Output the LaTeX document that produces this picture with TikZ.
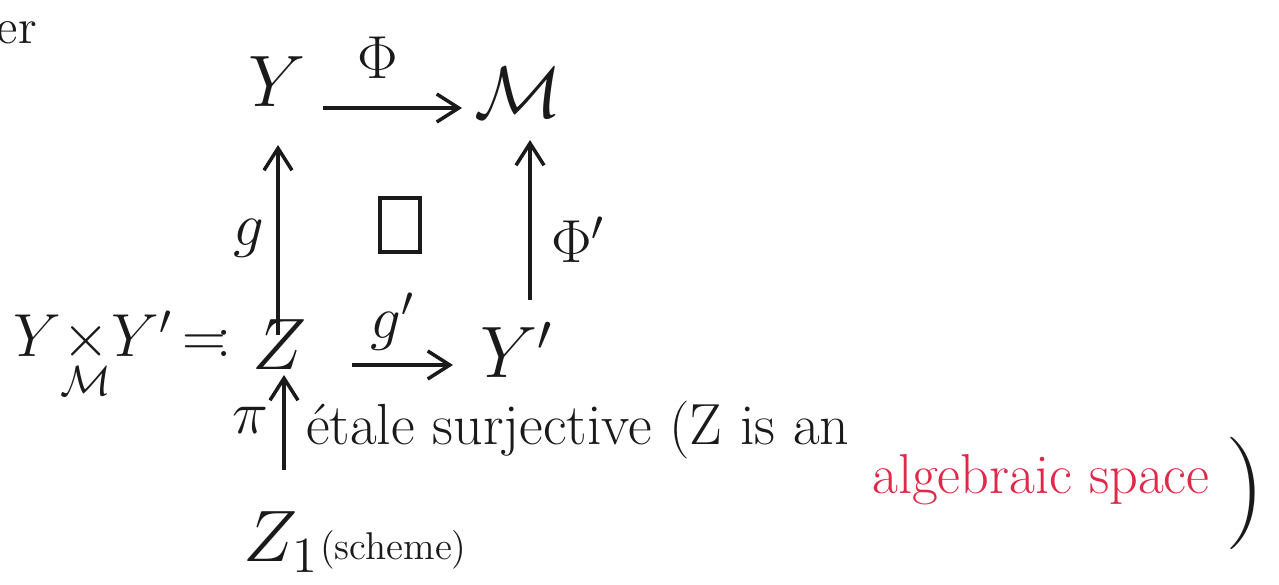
\documentclass[tikz,border=0pt]{standalone}
\usetikzlibrary{arrows.meta,calc}
\definecolor{ink}{HTML}{1A1A1A}
\definecolor{redink}{HTML}{E02848}
\begin{document}
\begin{tikzpicture}[x=0.01cm,y=-0.01cm,
  obj/.style={inner sep=1pt,font=\fontsize{20}{24}\selectfont,text=ink},
  lbl/.style={inner sep=1pt,font=\fontsize{18}{21}\selectfont,text=ink},
  txt/.style={inner sep=1pt,font=\fontsize{16.5}{19}\selectfont,text=ink},
  arr/.style={draw=ink,line width=1pt,-{Straight Barb[length=2.2mm,width=2.8mm]}}]
\useasboundingbox (0,0) rectangle (1279,585);
% objects
\node[obj] (Y)  at (277,82)  {$Y$};
\node[obj] (M)  at (518,93)  {$\mathcal{M}$};
\node[obj] (Z)  at (280,345) {$Z$};
\node[obj] (Yp) at (517,350) {$Y'$};
\node[obj] (Z1) at (281,542) {$Z_1$};
\node[obj,anchor=east,font=\fontsize{18}{21}\selectfont] (prod) at (246,355) {$Y\!\mathop{\times}\limits_{\mathcal{M}}\!Y'\,\mathord{=}\!\mathord{:}\,$};
\node[txt,anchor=west,font=\fontsize{11}{13}\selectfont] (sch) at (316,550) {(scheme)};
\node[txt,font=\fontsize{14}{16}\selectfont] (er) at (17,33) {er};
% arrows
\draw[arr] ($(Y)+(46,26)$) -- ($(M)+(-56,15)$);
\draw[arr] ($(Z)+(-2,-10)$) -- ($(Y)+(1,63)$);
\draw[arr] ($(Yp)+(13,-50)$) -- ($(M)+(12,47)$);
\draw[arr] ($(Z)+(72,20)$) -- ($(Yp)+(-64,15)$);
\draw[arr] ($(Z1)+(3,-72)$) -- ($(Z)+(4,30)$);
% arrow labels
\node[lbl] (phi) at (378,58) {$\Phi$};
\node[lbl] (g) at (249,238) {$g$};
\node[lbl] (phip) at (578,240) {$\Phi'$};
\node[lbl] (gp) at (393,322) {$g'$};
\node[lbl] (pi) at (250,420) {$\pi$};
% pullback square
\node[draw=ink,line width=1pt,inner sep=0pt,minimum width=0.4cm,minimum height=0.54cm] (sq) at (400,225) {};
% annotation
\node[txt,anchor=west] (et) at (302,430) {\'etale surjective (Z is an};
\node[txt,anchor=west,text=redink,font=\fontsize{16}{19}\selectfont] (alg) at (868,480) {algebraic space};
\node[inner sep=0pt,text=ink,font=\fontsize{32}{36}\selectfont] (rp) at (1245,493) {)};
\end{tikzpicture}
\end{document}
